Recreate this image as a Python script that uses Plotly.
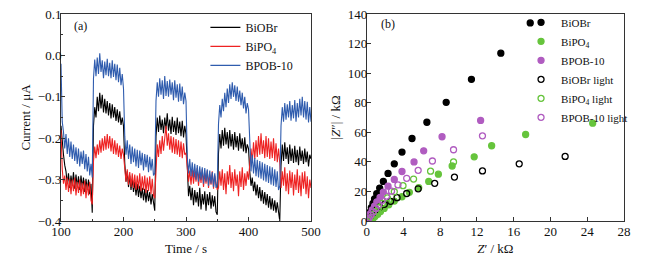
import plotly.graph_objects as go

# ---------------- (a) photocurrent data (units: 0.001 uA), t = 100..500 step 2 s
time_s = list(range(100, 501, 2))

bpob10_mA = [
    -20, -160, -185, -225, -190, -238, -200, -245, -208, -250, -215, -255, -222, -262, -225, -268, -232, -262, -230, -275, -238, -280, -245, -290, -262,
    -295, -55, -10, -50, -5, -45, 5, -40, -12, -55, -15, -48, -8, -50, -18, -55, -12, -52, -20, -60, -22, -65, -30, -72, -45,
    -80, -195, -240, -205, -250, -215, -262, -220, -258, -225, -268, -228, -272, -230, -265, -235, -278, -238, -270, -240, -282, -245, -278, -250, -290,
    -285, -110, -65, -100, -55, -95, -60, -105, -50, -98, -62, -100, -58, -95, -65, -108, -60, -102, -70, -112, -68, -110, -75, -118, -90,
    -110, -245, -285, -250, -292, -258, -295, -262, -300, -265, -305, -268, -300, -270, -310, -272, -305, -275, -315, -278, -310, -282, -318, -285, -320,
    -310, -165, -120, -150, -105, -135, -90, -125, -80, -115, -70, -105, -65, -100, -72, -110, -75, -112, -85, -120, -90, -128, -100, -140, -115,
    -130, -235, -280, -240, -285, -248, -292, -252, -295, -255, -298, -258, -302, -262, -305, -265, -308, -268, -312, -270, -315, -275, -318, -280, -325,
    -315, -170, -125, -160, -115, -155, -118, -150, -110, -158, -120, -152, -108, -160, -115, -150, -105, -145, -100, -150, -110, -155, -112, -162, -125,
    -160,
]

biobr_mA = [
    -170, -210, -240, -265, -280, -310, -285, -320, -290, -315, -282, -322, -288, -318, -292, -325, -290, -320, -295, -330, -298, -325, -300, -335, -310,
    -380, -170, -125, -150, -100, -135, -90, -128, -95, -138, -105, -140, -110, -145, -115, -152, -118, -150, -125, -158, -130, -162, -135, -168, -150,
    -170, -260, -305, -280, -318, -290, -325, -298, -330, -305, -338, -310, -342, -315, -345, -320, -350, -322, -355, -325, -352, -330, -360, -335, -362,
    -375, -195, -150, -185, -145, -180, -155, -188, -150, -178, -140, -182, -155, -190, -148, -185, -158, -192, -150, -188, -160, -195, -158, -198, -170,
    -190, -295, -340, -315, -350, -320, -362, -325, -355, -330, -365, -320, -372, -335, -360, -328, -375, -335, -362, -330, -370, -338, -365, -340, -378,
    -385, -235, -190, -225, -180, -218, -175, -215, -185, -225, -180, -220, -190, -228, -185, -222, -195, -230, -188, -225, -200, -232, -198, -236, -215,
    -225, -280, -315, -295, -328, -305, -338, -312, -345, -318, -352, -325, -358, -330, -362, -335, -368, -340, -372, -345, -375, -350, -380, -355, -385,
    -400, -265, -215, -255, -210, -250, -222, -262, -215, -255, -225, -260, -218, -258, -228, -265, -220, -255, -230, -262, -225, -258, -232, -268, -240,
    -250,
]

bipo4_mA = [
    -180, -275, -310, -290, -325, -295, -330, -298, -335, -300, -328, -295, -338, -305, -332, -300, -340, -308, -335, -302, -345, -310, -338, -305, -350,
    -360, -255, -220, -248, -215, -240, -205, -235, -200, -230, -195, -228, -190, -225, -195, -232, -200, -238, -205, -240, -212, -245, -218, -250, -225,
    -240, -265, -305, -275, -312, -282, -318, -285, -320, -288, -325, -290, -322, -285, -328, -292, -325, -290, -332, -295, -328, -292, -335, -298, -338,
    -345, -255, -215, -245, -205, -238, -195, -230, -190, -170, -218, -188, -228, -195, -235, -198, -238, -202, -240, -205, -245, -208, -248, -212, -240,
    -235, -270, -305, -278, -312, -275, -310, -280, -305, -272, -315, -282, -308, -275, -318, -285, -310, -278, -320, -288, -312, -280, -322, -290, -315,
    -325, -320, -280, -315, -275, -325, -285, -335, -280, -312, -265, -320, -282, -328, -275, -315, -288, -340, -280, -318, -270, -325, -285, -315, -280,
    -300, -265, -225, -258, -210, -250, -205, -245, -195, -240, -188, -238, -205, -248, -195, -245, -200, -250, -208, -248, -200, -255, -212, -258, -225,
    -260, -320, -280, -315, -270, -328, -285, -335, -278, -320, -282, -338, -288, -325, -275, -332, -290, -340, -282, -322, -280, -335, -292, -345, -300,
    -320,
]

# ---------------- (b) Nyquist data (kOhm)
biobr_re = [17.8, 14.6, 11.4, 8.65, 6.55, 4.93, 3.84, 3.0, 2.32, 1.81, 1.41, 1.09, 0.85, 0.68, 0.5, 0.35, 0.2, 0.1]
biobr_im = [134, 113.5, 95.8, 80.3, 66.8, 55.8, 46.6, 38.7, 32.2, 26.8, 22.3, 18.5, 15, 12, 9, 6, 3.5, 1.5]

bipo4_re = [24.6, 17.3, 13.6, 11.7, 9.3, 7.8, 6.75, 5.66, 4.64, 3.84, 3.0, 2.4, 1.9, 1.5, 1.2, 0.9, 0.7, 0.5, 0.3]
bipo4_im = [66.2, 58.5, 50.9, 43.4, 37.2, 31.7, 26.8, 22.5, 19.4, 16.4, 13.5, 11, 8.5, 6.5, 4.5, 3, 1.8, 0.8, 0.3]

bpob_re = [12.4, 8.2, 6.2, 5.15, 3.84, 3.0, 2.32, 1.81, 1.45, 1.1, 0.85, 0.6, 0.4, 0.25, 0.1]
bpob_im = [68, 57, 47.5, 40, 33.5, 28.1, 23.6, 19.6, 16, 13, 10, 7.5, 5, 3, 1]

biobr_l_re = [21.6, 16.6, 12.6, 9.55, 7.4, 5.6, 4.35, 3.3, 2.6, 1.92, 1.41, 1.0, 0.7, 0.45, 0.25, 0.1]
biobr_l_im = [43.7, 38.7, 33.9, 29.7, 25.5, 21.8, 18.6, 15.8, 13.3, 11.3, 9.5, 7.5, 5.5, 3.5, 1.8, 0.6]

bipo4_l_re = [9.45, 6.95, 5.1, 3.95, 3.0, 2.25, 1.7, 1.3, 1.0, 0.75, 0.5, 0.3]
bipo4_l_im = [40.0, 33.7, 28.4, 23.9, 19.8, 15.7, 12, 9, 6.5, 4.5, 2.5, 1]

bpob_l_re = [12.6, 9.45, 7.15, 5.6, 4.35, 3.4, 2.7, 2.15, 1.7, 1.3, 1.0, 0.7, 0.45, 0.25, 0.1]
bpob_l_im = [57.6, 48.2, 40.6, 34.3, 28.9, 24.4, 20.2, 16.8, 14, 11, 8.5, 6, 4, 2, 0.7]

FONT = "Liberation Serif"
BLACK = "#000000"
RED = "#ee2222"
BLUE = "#2f5cae"
GREEN = "#66c43c"
PURPLE = "#b05cc0"

fig = go.Figure()

for name, vals, col in [("BiOBr", biobr_mA, BLACK), ("BiPO<sub>4</sub>", bipo4_mA, RED), ("BPOB-10", bpob10_mA, BLUE)]:
    fig.add_trace(go.Scatter(x=time_s, y=[v / 1000 for v in vals], mode="lines", name=name,
                             line=dict(color=col, width=1.1), xaxis="x", yaxis="y", legend="legend"))

for name, xs, ys, col, sym in [
    ("BiOBr", biobr_re, biobr_im, BLACK, "circle"),
    ("BiPO<sub>4</sub>", bipo4_re, bipo4_im, GREEN, "circle"),
    ("BPOB-10", bpob_re, bpob_im, PURPLE, "circle"),
    ("BiOBr light", biobr_l_re, biobr_l_im, BLACK, "circle-open"),
    ("BiPO<sub>4</sub> light", bipo4_l_re, bipo4_l_im, GREEN, "circle-open"),
    ("BPOB-10 light", bpob_l_re, bpob_l_im, PURPLE, "circle-open"),
]:
    fig.add_trace(go.Scatter(x=xs, y=ys, mode="markers", name=name,
                             marker=dict(color=col, symbol=sym, size=6, line=dict(color=col, width=1.3)),
                             xaxis="x2", yaxis="y2", legend="legend2"))

axis_common = dict(showline=True, linecolor="#333333", linewidth=1, mirror=True, ticks="inside",
                   ticklen=4, tickcolor="#333333", showgrid=False, zeroline=False,
                   tickfont=dict(family=FONT, size=13, color="#111111"))

fig.update_layout(
    width=668, height=257,
    margin=dict(l=0, r=0, t=0, b=0, autoexpand=False),
    paper_bgcolor="white", plot_bgcolor="white",
    font=dict(family=FONT, size=13, color="#111111"),
    xaxis=dict(domain=[0.0913, 0.4656], range=[100, 500], dtick=100, ticklabelstandoff=-2,
               minor=dict(ticks="inside", dtick=50, ticklen=2.5, tickcolor="#333333"),
               title=dict(text="Time / s", standoff=6, font=dict(family=FONT, size=13)), anchor="y", **axis_common),
    yaxis=dict(domain=[0.14, 0.9455], range=[-0.4, 0.1], dtick=0.1, tickformat=".1f", ticklabelstandoff=-4,
               minor=dict(ticks="inside", dtick=0.05, ticklen=2.5, tickcolor="#333333"),
               title=dict(text="Current / μA", standoff=4, font=dict(family=FONT, size=13)), anchor="x", **axis_common),
    xaxis2=dict(domain=[0.549, 0.934], range=[0, 28], dtick=4, ticklabelstandoff=-2,
                title=dict(text="<i>Z</i>′ / kΩ", standoff=6, font=dict(family=FONT, size=13)), anchor="y2", **axis_common),
    yaxis2=dict(domain=[0.14, 0.9455], range=[0, 140], dtick=20, ticklabelstandoff=-4,
                title=dict(text="|<i>Z</i>″| / kΩ", standoff=4, font=dict(family=FONT, size=13)), anchor="x2", **axis_common),
    legend=dict(x=0.3075, y=0.95, xanchor="left", yanchor="top", bgcolor="rgba(0,0,0,0)",
                font=dict(family=FONT, size=12), tracegroupgap=0, itemwidth=30),
    legend2=dict(x=0.780, y=0.9697, xanchor="left", yanchor="top", bgcolor="rgba(0,0,0,0)",
                 font=dict(family=FONT, size=11), tracegroupgap=0, itemwidth=30),
    showlegend=True,
    annotations=[
        dict(text="(a)", x=0.108, y=0.90, xref="paper", yref="paper", showarrow=False,
             xanchor="left", yanchor="middle", font=dict(family=FONT, size=12)),
        dict(text="(b)", x=0.5675, y=0.905, xref="paper", yref="paper", showarrow=False,
             xanchor="left", yanchor="middle", font=dict(family=FONT, size=12)),
    ],
)

fig.write_html("out.html", config={"displayModeBar": False},
               post_script="document.body.style.margin='0';document.body.style.padding='0';")
